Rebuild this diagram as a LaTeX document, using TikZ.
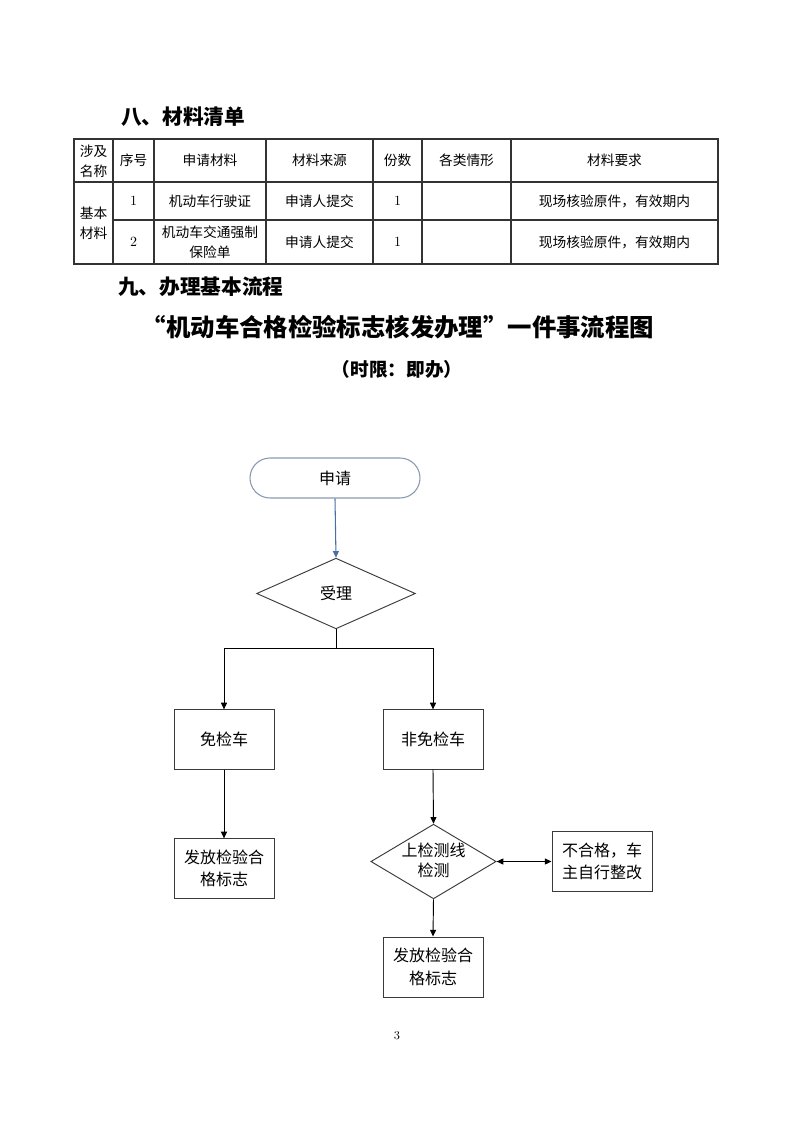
\documentclass[tikz,border=0pt]{standalone}
\usepackage{fontspec}
\newfontfamily\cjk{Noto Sans CJK SC}
\usetikzlibrary{shapes.geometric,arrows.meta}
\definecolor{startborder}{HTML}{8A9AB0}
\definecolor{bluearrow}{HTML}{4A6FA5}
\definecolor{boxline}{HTML}{3A3A3A}
\definecolor{tabline}{HTML}{333333}
\begin{document}
\begin{tikzpicture}[x=0.75pt,y=-0.75pt,
  cell/.style={font=\cjk\fontsize{10.3}{15}\selectfont,align=center,inner sep=0pt},
  numcell/.style={font=\fontsize{10.5}{12}\selectfont,inner sep=0pt},
  heading/.style={font=\cjk\bfseries\fontsize{15.5}{18}\selectfont,anchor=west,inner sep=0pt},
  flowbox/.style={draw=boxline,line width=0.7pt,rectangle,minimum width=75pt,minimum height=44.5pt,inner sep=0pt,align=center,font=\cjk\fontsize{12}{17}\selectfont},
  flowdia/.style={draw=boxline,line width=0.7pt,diamond,inner sep=0pt},
  flowtext/.style={align=center,inner sep=0pt,font=\cjk\fontsize{12}{15}\selectfont},
  arr/.style={-{Triangle[length=5pt,width=4.5pt]},line width=0.7pt,black},
  tline/.style={draw=tabline,line width=0.8pt}
]
\useasboundingbox (0,0) rectangle (793,1122);
\fill[white] (0,0) rectangle (793,1122);

% headings
\node[heading] (h8) at (121,117) {八、材料清单};
\node[heading] (h9) at (118,287) {九、办理基本流程};
\node[font=\cjk\bfseries\fontsize{18.3}{22}\selectfont,inner sep=0pt] (title) at (398,327) {“机动车合格检验标志核发办理”一件事流程图};
\node[font=\cjk\bfseries\fontsize{14}{16}\selectfont,inner sep=0pt] (limit) at (397,369) {（时限：即办）};

% table lines
\draw[tline] (74,139) rectangle (718,264);
\draw[tline] (74,182) -- (718,182);
\draw[tline] (113,220) -- (718,220);
\foreach \cx in {113,154,266,373,422,511}
  \draw[tline] (\cx,139) -- (\cx,264);

% header row
\node[cell] (t11) at (93.5,161) {涉及\\名称};
\node[cell] (t12) at (133.5,160) {序号};
\node[cell] (t13) at (210,160) {申请材料};
\node[cell] (t14) at (319.5,160) {材料来源};
\node[cell] (t15) at (397.5,160) {份数};
\node[cell] (t16) at (466.5,160) {各类情形};
\node[cell] (t17) at (614.5,160) {材料要求};
% merged
\node[cell] (t21) at (93.5,223) {基本\\材料};
% row 1
\node[numcell] (t22) at (133.5,201) {1};
\node[cell] (t23) at (210,201) {机动车行驶证};
\node[cell] (t24) at (319.5,201) {申请人提交};
\node[numcell] (t25) at (397.5,201) {1};
\node[cell] (t27) at (614.5,201) {现场核验原件，有效期内};
% row 2
\node[numcell] (t32) at (133.5,242) {2};
\node[cell] (t33) at (210,242) {机动车交通强制\\保险单};
\node[cell] (t34) at (319.5,242) {申请人提交};
\node[numcell] (t35) at (397.5,242) {1};
\node[cell] (t37) at (614.5,242) {现场核验原件，有效期内};

% flowchart
\node[draw=startborder,line width=0.8pt,rounded corners=15pt,minimum width=127.5pt,minimum height=30pt,inner sep=0pt,font=\cjk\fontsize{12}{15}\selectfont] (apply) at (335,478) {申请};

\node[flowdia,minimum width=119pt,minimum height=53pt] (accept) at (336,593.5) {};
\node[flowtext] (acceptt) at (336,593.5) {受理};

\coordinate (split) at (336,648);
\coordinate (splitL) at (224,648);
\coordinate (splitR) at (433,648);

\node[flowbox] (exempt) at (224,739.5) {免检车};
\node[flowbox] (nonexempt) at (433,739.5) {非免检车};
\node[flowbox] (issueL) at (224,868.5) {发放检验合\\格标志};

\node[flowdia,minimum width=94pt,minimum height=56pt] (test) at (433.5,861.5) {};
\node[flowtext] (testt) at (433.5,860) {上检测线\\检测};

\node[flowbox] (fail) at (602,861.5) {不合格，车\\主自行整改};
\node[flowbox,minimum height=45pt] (issueR) at (433,967) {发放检验合\\格标志};

\draw[-{Triangle[length=5pt,width=4.5pt]},line width=0.8pt,bluearrow] (apply.south) -- (accept.north);
\draw[line width=0.7pt] (accept.south) -- (split);
\draw[line width=0.7pt] (splitL) -- (splitR);
\draw[arr] (splitL) -- (exempt.north);
\draw[arr] (splitR) -- (nonexempt.north);
\draw[arr] (exempt.south) -- (issueL.north);
\draw[arr] (nonexempt.south) -- (test.north);
\draw[{Triangle[length=5pt,width=4.5pt]}-{Triangle[length=5pt,width=4.5pt]},line width=0.7pt] (test.east) -- (fail.west);
\draw[arr] (test.south) -- (issueR.north);

% page number
\node[font=\fontsize{9}{11}\selectfont,inner sep=0pt] (pnum) at (397,1036) {3};
\end{tikzpicture}
\end{document}
